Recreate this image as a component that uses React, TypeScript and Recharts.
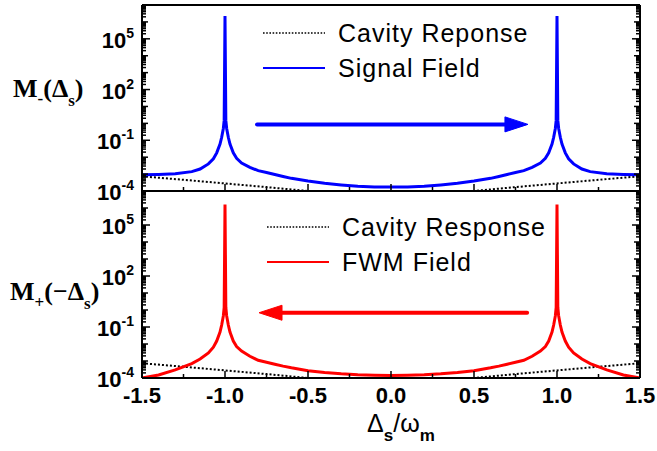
import React from "react";
import { LineChart, Line, XAxis, YAxis, ReferenceLine, Legend } from "recharts";

// detuning Δs/ωm, dense around the two resonances at ±1
const xField = [
  -1.5, -1.4, -1.3, -1.2, -1.15, -1.1, -1.07, -1.05, -1.03, -1.02, -1.01, -1.005,
  -1.0,
  -0.995, -0.99, -0.98, -0.97, -0.95, -0.93, -0.9, -0.85, -0.8, -0.75, -0.7, -0.65, -0.6, -0.5, -0.4, -0.3, -0.2, -0.1,
  0,
  0.1, 0.2, 0.3, 0.4, 0.5, 0.6, 0.65, 0.7, 0.75, 0.8, 0.85, 0.9, 0.93, 0.95, 0.97, 0.98, 0.99, 0.995,
  1.0,
  1.005, 1.01, 1.02, 1.03, 1.05, 1.07, 1.1, 1.15, 1.2, 1.3, 1.4, 1.5,
];

const signalField = [
  9.0e-4, 9.5e-4, 1.05e-3, 1.4e-3, 2.0e-3, 4.0e-3, 8.0e-3, 1.8e-2, 6e-2, 0.15, 0.5, 1.5,
  2.2e6,
  1.5, 0.5, 0.15, 6e-2, 1.8e-2, 8.5e-3, 4.5e-3, 2.5e-3, 1.6e-3, 1.25e-3, 9.5e-4, 7.2e-4, 5.6e-4, 3.9e-4, 2.9e-4, 2.3e-4, 1.9e-4, 1.75e-4,
  1.7e-4,
  1.75e-4, 1.9e-4, 2.3e-4, 2.9e-4, 3.9e-4, 5.6e-4, 7.2e-4, 9.5e-4, 1.25e-3, 1.6e-3, 2.5e-3, 4.5e-3, 8.5e-3, 1.8e-2, 6e-2, 0.15, 0.5, 1.5,
  2.2e6,
  1.5, 0.5, 0.15, 6e-2, 1.8e-2, 8.0e-3, 4.0e-3, 2.0e-3, 1.4e-3, 1.05e-3, 9.5e-4, 9.0e-4,
];

const fwmField = [
  1.0e-4, 1.5e-4, 3.0e-4, 7e-4, 1.3e-3, 3.0e-3, 6.5e-3, 1.5e-2, 5e-2, 0.13, 0.45, 1.4,
  1.6e6,
  1.4, 0.45, 0.13, 5e-2, 1.5e-2, 7e-3, 3.8e-3, 1.9e-3, 1.1e-3, 8.5e-4, 6.5e-4, 5e-4, 4e-4, 2.7e-4, 2.1e-4, 1.75e-4, 1.55e-4, 1.45e-4,
  1.4e-4,
  1.45e-4, 1.55e-4, 1.75e-4, 2.1e-4, 2.7e-4, 4e-4, 5e-4, 6.5e-4, 8.5e-4, 1.1e-3, 1.9e-3, 3.8e-3, 7e-3, 1.5e-2, 5e-2, 0.13, 0.45, 1.4,
  1.6e6,
  1.4, 0.45, 0.13, 5e-2, 1.5e-2, 6.5e-3, 3.0e-3, 1.3e-3, 7e-4, 3.0e-4, 1.5e-4, 1.0e-4,
];

const xCavity = [-1.5, -1.25, -1.0, -0.75, -0.5, -0.25, 0, 0.25, 0.5, 0.75, 1.0, 1.25, 1.5];
const cavityResponse = [7.4e-4, 4.6e-4, 2.8e-4, 1.7e-4, 1.0e-4, 6.0e-5, 5.0e-5, 6.0e-5, 1.0e-4, 1.7e-4, 2.8e-4, 4.6e-4, 7.4e-4];

const xMajorTicks = [-1.5, -1.0, -0.5, 0.0, 0.5, 1.0, 1.5];
const xMinorTicks = [-1.25, -0.75, -0.25, 0.25, 0.75, 1.25];
const yLabelExponents = [-4, -1, 2, 5];
const yDomain: [number, number] = [1e-4, 1e7];

const topArrow = [{ x: -0.807, y: 0.87 }, { x: 0.825, y: 0.87 }];
const bottomArrow = [{ x: 0.82, y: 0.69 }, { x: -0.795, y: 0.69 }];

const toPoints = (xs: number[], ys: number[]) => xs.map((x, i) => ({ x, y: ys[i] }));
const signalData = toPoints(xField, signalField);
const fwmData = toPoints(xField, fwmField);
const cavityData = toPoints(xCavity, cavityResponse);

const xTicks = [...xMajorTicks, ...xMinorTicks].sort((a, b) => a - b);
const yTicks: number[] = [];
for (let e = -4; e <= 6; e++) {
  for (let m = 1; m <= 9; m++) yTicks.push(Number((m * Math.pow(10, e)).toPrecision(6)));
}
yTicks.push(1e7);

const SANS = "'Liberation Sans', Arial, sans-serif";
const SERIF = "'Liberation Serif', 'Times New Roman', serif";
const axisLine = { stroke: "#000", strokeWidth: 2 };

function decadeInfo(v: number) {
  const l = Math.log10(v);
  const e = Math.round(l);
  return { e, isDecade: Math.abs(l - e) < 1e-6 };
}

// inward log ticks; dir = +1 for the left axis, -1 for the right one
const makeYTick = (dir: number, showLabel: boolean) => (props: any) => {
  const { x, y, payload } = props;
  const { e, isDecade } = decadeInfo(payload.value);
  const labelled = isDecade && yLabelExponents.includes(e);
  const len = labelled ? 8 : isDecade ? 6 : 4;
  return (
    <g>
      <line x1={x} x2={x + dir * len} y1={y} y2={y} stroke="#000" strokeWidth={1.5} />
      {showLabel && labelled && (
        <text x={x - 8} y={y + 9} textAnchor="end" fontFamily={SANS} fontWeight="bold" fontSize={22} fill="#000">
          10<tspan dy={-10} fontSize={14}>{e}</tspan>
        </text>
      )}
    </g>
  );
};

const makeXTick = (dir: number, showLabel: boolean) => (props: any) => {
  const { x, y, payload } = props;
  const major = xMajorTicks.includes(payload.value);
  const len = major ? 7 : 4;
  return (
    <g>
      <line x1={x} x2={x} y1={y} y2={y + dir * len} stroke="#000" strokeWidth={1.5} />
      {showLabel && major && (
        <text x={x} y={y + 25} textAnchor="middle" fontFamily={SANS} fontWeight="bold" fontSize={22} fill="#000">
          {payload.value.toFixed(1)}
        </text>
      )}
    </g>
  );
};

const makeArrow = (color: string) => (props: any) => {
  const { x1, y1, x2, y2 } = props;
  const dir = x2 > x1 ? 1 : -1;
  const baseX = x2 - dir * 23;
  return (
    <g>
      <line x1={x1} y1={y1} x2={baseX} y2={y2} stroke={color} strokeWidth={4} strokeLinecap="round" />
      <polygon
        points={`${x2},${y2} ${baseX},${y2 - 7.5} ${baseX},${y2 + 7.5}`}
        fill={color}
        stroke={color}
        strokeWidth={1}
        strokeLinejoin="round"
      />
    </g>
  );
};

const LegendBox = (props: any) => {
  const items = props.payload || [];
  return (
    <div style={{ fontFamily: SANS, fontSize: 25, letterSpacing: 1, color: "#000" }}>
      {items.map((item: any) => {
        const dotted = String(item.value).startsWith("Cavity");
        return (
          <div key={item.value} style={{ display: "flex", alignItems: "center", height: 35 }}>
            <svg width={62} height={6} style={{ display: "block" }}>
              <line
                x1={0}
                x2={62}
                y1={3}
                y2={3}
                stroke={dotted ? "#000" : item.color}
                strokeWidth={dotted ? 1.6 : 2}
                strokeDasharray={dotted ? "1.6 1.6" : undefined}
              />
            </svg>
            <span style={{ marginLeft: 13, lineHeight: "35px", whiteSpace: "nowrap" }}>{item.value}</span>
          </div>
        );
      })}
    </div>
  );
}

const topTitle = (
  <text x={13} y={97} fontFamily={SERIF} fontWeight="bold" fontSize={26} fill="#000">
    M<tspan dy={7} fontSize={17}>-</tspan>
    <tspan dy={-7}>(Δ</tspan>
    <tspan dy={9} fontSize={17}>s</tspan>
    <tspan dy={-9}>)</tspan>
  </text>
);

const bottomTitle = (
  <text x={10} y={110} fontFamily={SERIF} fontWeight="bold" fontSize={26} fill="#000">
    M<tspan dy={8} fontSize={17}>+</tspan>
    <tspan dy={-8}>(−Δ</tspan>
    <tspan dy={9} fontSize={17}>s</tspan>
    <tspan dy={-9}>)</tspan>
  </text>
);

const xTitle = (
  <text x={401} y={242} textAnchor="middle" fontFamily={SANS} fontSize={25} fill="#000">
    Δ<tspan dy={9} fontSize={17} fontWeight="bold">s</tspan>
    <tspan dy={-9}>/ω</tspan>
    <tspan dy={9} fontSize={17} fontWeight="bold">m</tspan>
  </text>
);

export default function App() {
  return (
    <div style={{ position: "absolute", left: 0, top: 0, width: 657, height: 451, background: "#fff" }}>
      <div style={{ position: "absolute", left: 0, top: 0 }}>
        <LineChart width={657} height={205} margin={{ top: 4, right: 16, bottom: 13, left: 0 }}>
          <XAxis type="number" dataKey="x" domain={[-1.5, 1.5]} ticks={xTicks} interval={0} height={1}
            tickSize={0} tickMargin={0} tickLine={false} axisLine={axisLine} tick={makeXTick(-1, false)} />
          <XAxis xAxisId="top" orientation="top" type="number" dataKey="x" domain={[-1.5, 1.5]} ticks={xTicks} interval={0} height={1}
            tickSize={0} tickMargin={0} tickLine={false} axisLine={axisLine} tick={makeXTick(1, false)} />
          <YAxis type="number" scale="log" domain={yDomain} allowDataOverflow ticks={yTicks} interval={0} width={142}
            tickSize={0} tickMargin={0} tickLine={false} axisLine={axisLine} tick={makeYTick(1, true)}
            label={{ content: () => topTitle }} />
          <YAxis yAxisId="right" orientation="right" type="number" scale="log" domain={yDomain} allowDataOverflow ticks={yTicks} interval={0} width={1}
            tickSize={0} tickMargin={0} tickLine={false} axisLine={axisLine} tick={makeYTick(-1, false)} />
          <Legend layout="vertical" align="center" verticalAlign="middle" wrapperStyle={{ top: 15.5, left: 263, width: 320 }} content={LegendBox} />
          <Line data={cavityData} dataKey="y" name="Cavity Reponse" stroke="#000" strokeWidth={2} strokeDasharray="2 2"
            dot={false} activeDot={false} isAnimationActive={false} />
          <Line data={signalData} dataKey="y" name="Signal Field" stroke="#0000FF" strokeWidth={3}
            dot={false} activeDot={false} isAnimationActive={false} />
          <ReferenceLine segment={topArrow} ifOverflow="visible" shape={makeArrow("#0000FF")} />
        </LineChart>
      </div>
      <div style={{ position: "absolute", left: 0, top: 190 }}>
        <LineChart width={657} height={261} margin={{ top: 0, right: 16, bottom: 0, left: 0 }}>
          <XAxis type="number" dataKey="x" domain={[-1.5, 1.5]} ticks={xTicks} interval={0} height={73}
            tickSize={0} tickMargin={0} tickLine={false} axisLine={axisLine} tick={makeXTick(-1, true)}
            label={{ content: () => xTitle }} />
          <XAxis xAxisId="top" orientation="top" type="number" dataKey="x" domain={[-1.5, 1.5]} ticks={xTicks} interval={0} height={1}
            tickSize={0} tickMargin={0} tickLine={false} axisLine={axisLine} tick={makeXTick(1, false)} />
          <YAxis type="number" scale="log" domain={yDomain} allowDataOverflow ticks={yTicks} interval={0} width={142}
            tickSize={0} tickMargin={0} tickLine={false} axisLine={axisLine} tick={makeYTick(1, true)}
            label={{ content: () => bottomTitle }} />
          <YAxis yAxisId="right" orientation="right" type="number" scale="log" domain={yDomain} allowDataOverflow ticks={yTicks} interval={0} width={1}
            tickSize={0} tickMargin={0} tickLine={false} axisLine={axisLine} tick={makeYTick(-1, false)} />
          <Legend layout="vertical" align="center" verticalAlign="middle" wrapperStyle={{ top: 19.5, left: 267, width: 320 }} content={LegendBox} />
          <Line data={cavityData} dataKey="y" name="Cavity Response" stroke="#000" strokeWidth={2} strokeDasharray="2 2"
            dot={false} activeDot={false} isAnimationActive={false} />
          <Line data={fwmData} dataKey="y" name="FWM Field" stroke="#FF0000" strokeWidth={3}
            dot={false} activeDot={false} isAnimationActive={false} />
          <ReferenceLine segment={bottomArrow} ifOverflow="visible" shape={makeArrow("#FF0000")} />
        </LineChart>
      </div>
    </div>
  );
}
